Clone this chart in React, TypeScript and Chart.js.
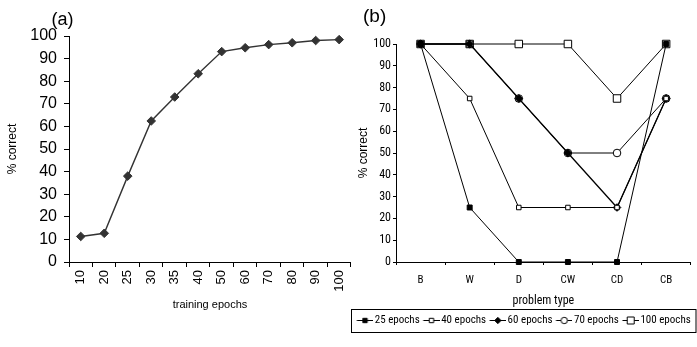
import React, { useEffect, useRef } from "react";
import { Chart, registerables } from "chart.js";

Chart.register(...registerables);

// ---------- data ----------
const epochLabels = ["10", "20", "25", "30", "35", "40", "50", "60", "70", "80", "90", "100"];
const epochCorrect = [11.3, 12.7, 38, 62.4, 73, 83.3, 93.1, 94.8, 96.2, 97, 98, 98.4];

const problemTypes = ["B", "W", "D", "CW", "CD", "CB"];
const ep25 = [100, 25, 0, 0, 0, 100];
const ep40 = [100, 75, 25, 25, 25, 75];
const ep60 = [100, 100, 75, 50, 25, 75];
const ep70 = [100, 100, 75, 50, 50, 75];
const ep100 = [100, 100, 100, 100, 75, 100];
const seriesNames = ["25 epochs", "40 epochs", "60 epochs", "70 epochs", "100 epochs"];

const arial = '"Liberation Sans", Arial, sans-serif';
const narrow = '"Roboto Condensed", "Liberation Sans Narrow", "Arial Narrow", Arial, sans-serif';

type Marker = { style: string; radius: number; fill: string };
const markers: Marker[] = [
  { style: "rect", radius: 3.5, fill: "#000" },
  { style: "rect", radius: 3.2, fill: "#fff" },
  { style: "rectRot", radius: 3.8, fill: "#000" },
  { style: "circle", radius: 3.8, fill: "#fff" },
  { style: "rect", radius: 5.3, fill: "#fff" },
];

// legend icon: transparent left margin so the visible line+marker sits just before the text
function makeIcon(m: Marker): HTMLCanvasElement {
  const c = document.createElement("canvas");
  c.width = 21;
  c.height = 11;
  const ctx = c.getContext("2d")!;
  const x0 = 4.5, x1 = 21;
  ctx.strokeStyle = "#000";
  ctx.lineWidth = 1;
  ctx.beginPath();
  ctx.moveTo(x0, 5.5);
  ctx.lineTo(x1, 5.5);
  ctx.stroke();
  ctx.fillStyle = m.fill;
  const cx = (x0 + x1) / 2, cy = 5.5;
  ctx.beginPath();
  if (m.style === "circle") {
    ctx.arc(cx, cy, 3.2, 0, Math.PI * 2);
  } else if (m.style === "rectRot") {
    ctx.moveTo(cx, cy - 3.2);
    ctx.lineTo(cx + 3.2, cy);
    ctx.lineTo(cx, cy + 3.2);
    ctx.lineTo(cx - 3.2, cy);
    ctx.closePath();
  } else {
    const s = m.radius > 4 ? 3.5 : 2.2;
    ctx.rect(cx - s, cy - s, 2 * s, 2 * s);
  }
  ctx.fill();
  ctx.stroke();
  return c;
}

const LEGEND_PAD = 3;
const LEGEND_FONT = 11;

const legendBorder = {
  id: "legendBorder",
  afterDraw(chart: any) {
    const l = chart.legend;
    if (!l) return;
    const ctx = chart.ctx;
    const cy = l.top + LEGEND_PAD + LEGEND_FONT / 2;
    ctx.save();
    ctx.strokeStyle = "#000";
    ctx.lineWidth = 1;
    ctx.strokeRect(1.5, Math.round(cy - 11.5) + 0.5, chart.width - 2.5, 23);
    ctx.restore();
  },
};

export default function App() {
  const refA = useRef<HTMLCanvasElement>(null);
  const refB = useRef<HTMLCanvasElement>(null);

  useEffect(() => {
    const chartA = new Chart(refA.current!, {
      type: "line",
      data: {
        labels: epochLabels,
        datasets: [
          {
            data: epochCorrect,
            borderColor: "#333",
            borderWidth: 1.4,
            pointStyle: "rectRot",
            pointRadius: 4.3,
            pointBackgroundColor: "#333",
            pointBorderColor: "#333",
            pointBorderWidth: 1,
            tension: 0,
            clip: false as any,
          },
        ],
      },
      options: {
        responsive: false,
        animation: false,
        devicePixelRatio: 1,
        layout: { padding: { left: 0, top: 36, right: 3, bottom: 35 } },
        plugins: { legend: { display: false }, tooltip: { enabled: false } },
        scales: {
          x: {
            type: "category",
            offset: true,
            grid: { drawOnChartArea: false, drawTicks: true, tickLength: 5, color: "#000", offset: true },
            border: { color: "#000", width: 1 },
            ticks: {
              color: "#000",
              font: { family: arial, size: 13 },
              minRotation: 90,
              maxRotation: 90,
              autoSkip: false,
              padding: 3,
            },
            title: {
              display: true,
              text: "training epochs",
              color: "#000",
              font: { family: arial, size: 11 },
              padding: { top: 0, bottom: 0 },
            },
            afterFit: (s: any) => {
              s.height = 50;
            },
          },
          y: {
            min: 0,
            max: 100,
            ticks: { stepSize: 10, color: "#000", font: { family: arial, size: 16 }, padding: 7 },
            grid: { drawOnChartArea: false, tickLength: 5, color: "#000" },
            border: { color: "#000", width: 1 },
            title: {
              display: true,
              text: "% correct",
              color: "#000",
              font: { family: arial, size: 12 },
              padding: { top: 5, bottom: 0 },
            },
            afterFit: (s: any) => {
              s.width = 69;
            },
          },
        },
      },
    });

    const allSeries = [ep25, ep40, ep60, ep70, ep100];
    const icons = markers.map(makeIcon);

    const chartB = new Chart(refB.current!, {
      type: "line",
      data: {
        labels: problemTypes,
        datasets: allSeries.map((d, i) => ({
          label: seriesNames[i],
          data: d,
          borderColor: "#000",
          borderWidth: i === 2 ? 1.3 : 1,
          pointStyle: markers[i].style as any,
          pointRadius: markers[i].radius,
          pointBackgroundColor: markers[i].fill,
          pointBorderColor: "#000",
          pointBorderWidth: 1,
          tension: 0,
          clip: false as any,
        })),
      },
      options: {
        responsive: false,
        animation: false,
        devicePixelRatio: 1,
        layout: { padding: { left: 0, top: 44, right: 0, bottom: 11 } },
        plugins: {
          tooltip: { enabled: false },
          legend: {
            display: true,
            position: "bottom",
            align: "center",
            labels: {
              usePointStyle: true,
              pointStyleWidth: 13,
              padding: LEGEND_PAD,
              color: "#000",
              font: { family: narrow, size: LEGEND_FONT },
              generateLabels: () =>
                seriesNames.map((n, i) => ({
                  text: n,
                  pointStyle: icons[i] as any,
                  fillStyle: "#000",
                  strokeStyle: "#000",
                  lineWidth: 0,
                  hidden: false,
                  datasetIndex: i,
                  fontColor: "#000",
                })),
            },
          },
        },
        scales: {
          x: {
            type: "category",
            offset: true,
            grid: { drawOnChartArea: false, drawTicks: true, tickLength: 3, color: "#000", offset: true },
            border: { color: "#000", width: 1 },
            ticks: { color: "#000", font: { family: narrow, size: 11 }, padding: 9, maxRotation: 0, autoSkip: false },
            title: {
              display: true,
              text: "problem type",
              color: "#000",
              font: { family: narrow, size: 12 },
              padding: { top: 0, bottom: 4 },
            },
            afterFit: (s: any) => {
              s.height = 50;
            },
          },
          y: {
            min: 0,
            max: 100,
            ticks: { stepSize: 10, color: "#000", font: { family: narrow, size: 12 }, padding: 2 },
            grid: { drawOnChartArea: false, tickLength: 3, color: "#000" },
            border: { color: "#000", width: 1 },
            title: {
              display: true,
              text: "% correct",
              color: "#000",
              font: { family: arial, size: 12 },
              padding: { top: 6, bottom: 0 },
            },
            afterFit: (s: any) => {
              s.width = 46;
            },
          },
        },
      },
      plugins: [legendBorder],
    });

    return () => {
      chartA.destroy();
      chartB.destroy();
    };
  }, []);

  return (
    <div
      style={{
        position: "fixed",
        left: 0,
        top: 0,
        width: 697,
        height: 347,
        background: "#fff",
        overflow: "hidden",
      }}
    >
      <canvas
        ref={refA}
        width={358}
        height={347}
        style={{ position: "absolute", left: 0, top: 0, width: 358, height: 347 }}
      />
      <canvas
        ref={refB}
        width={347}
        height={347}
        style={{ position: "absolute", left: 350, top: 0, width: 347, height: 347 }}
      />
      <div
        style={{
          position: "absolute",
          left: 51.5,
          top: 9.5,
          fontFamily: arial,
          fontSize: 18,
          lineHeight: 1,
          color: "#000",
        }}
      >
        (a)
      </div>
      <div
        style={{
          position: "absolute",
          left: 363,
          top: 6,
          fontFamily: arial,
          fontSize: 19,
          lineHeight: 1,
          color: "#000",
        }}
      >
        (b)
      </div>
    </div>
  );
}
